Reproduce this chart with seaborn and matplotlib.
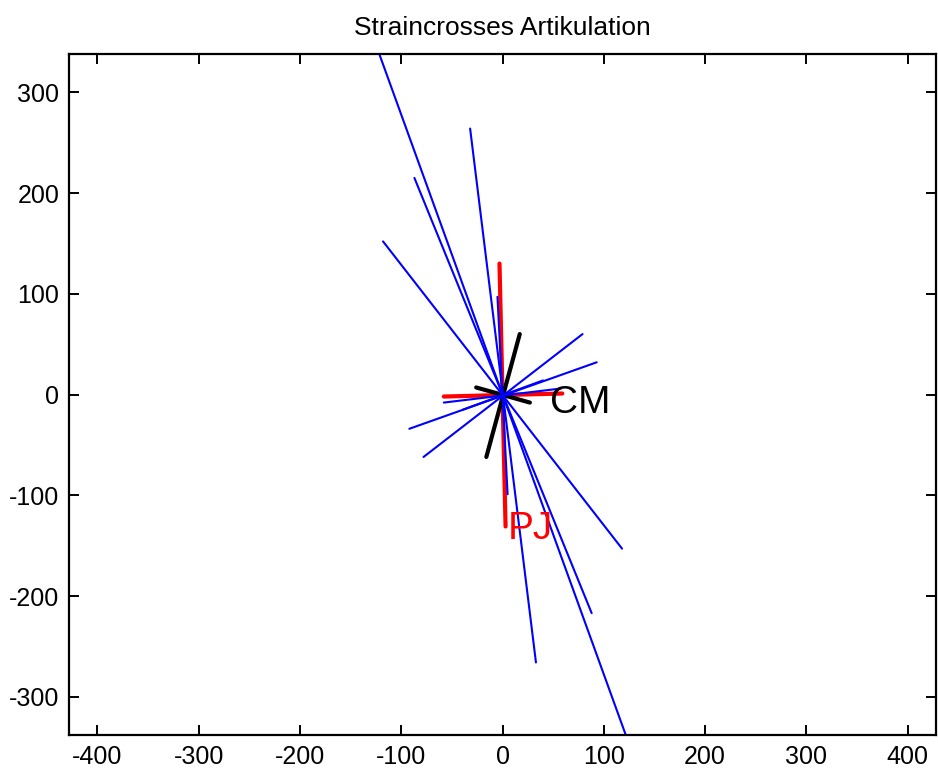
import numpy as np
import pandas as pd
import matplotlib
matplotlib.use("Agg")
import matplotlib.pyplot as plt
import seaborn as sns

# strain crosses: segment endpoints (x0, y0) -> (x1, y1)
BLUE_X0 = [-135, -32, -87, -118, 79, 93, 58, -5, 40]
BLUE_Y0 = [375, 264, 215, 152, 60, 32, 6, 97, 14]
BLUE_X1 = [135, 33, 88, 118, -78, -92, -58, 5, -39]
BLUE_Y1 = [-375, -266, -217, -153, -62, -34, -8, -99, -15]

RED_X0 = [-3, -58]
RED_Y0 = [130, -2]
RED_X1 = [3, 59]
RED_Y1 = [-131, 1]

BLACK_X0 = [17, -26]
BLACK_Y0 = [60, 7]
BLACK_X1 = [-16, 27]
BLACK_Y1 = [-62, -8]

LABELS = ["CM", "PJ"]
LABEL_X = [47, 5]
LABEL_Y = [-8, -133]
LABEL_COLORS = ["black", "red"]


def segments(x0, y0, x1, y1):
    rows = []
    for i in range(len(x0)):
        rows.append({"seg": i, "x": x0[i], "y": y0[i]})
        rows.append({"seg": i, "x": x1[i], "y": y1[i]})
    return pd.DataFrame(rows)


sns.set_style("white")
plt.rcParams["font.family"] = ["Liberation Sans", "DejaVu Sans"]
plt.rcParams["axes.unicode_minus"] = False
plt.rcParams["text.color"] = "black"
plt.rcParams["xtick.color"] = "black"
plt.rcParams["ytick.color"] = "black"

fig = plt.figure(figsize=(9.38, 7.76), dpi=100)
ax = fig.add_axes([0.0736, 0.0528, 0.9243, 0.8776])

sns.lineplot(data=segments(RED_X0, RED_Y0, RED_X1, RED_Y1), x="x", y="y",
             units="seg", estimator=None, sort=False, color="red", lw=3, ax=ax)
sns.lineplot(data=segments(BLACK_X0, BLACK_Y0, BLACK_X1, BLACK_Y1), x="x", y="y",
             units="seg", estimator=None, sort=False, color="black", lw=3, ax=ax)
sns.lineplot(data=segments(BLUE_X0, BLUE_Y0, BLUE_X1, BLUE_Y1), x="x", y="y",
             units="seg", estimator=None, sort=False, color="blue", lw=1.5, ax=ax)

for lab, lx, ly, c in zip(LABELS, LABEL_X, LABEL_Y, LABEL_COLORS):
    ax.text(lx, ly, lab, color=c, fontsize=28, ha="left", va="center")

ax.set_xlim(-428, 428)
ax.set_ylim(-338, 338)
ax.set_xticks(np.arange(-400, 401, 100))
ax.set_yticks(np.arange(-300, 301, 100))
ax.set_xlabel("")
ax.set_ylabel("")
ax.set_title("Straincrosses Artikulation", fontsize=19, pad=14, color="black")

for sp in ax.spines.values():
    sp.set_visible(True)
    sp.set_color("black")
    sp.set_linewidth(1.6)
ax.tick_params(direction="in", length=7, width=1.4, labelsize=18,
               top=True, right=True, bottom=True, left=True, pad=7)

fig.savefig("out.png", dpi=100)
